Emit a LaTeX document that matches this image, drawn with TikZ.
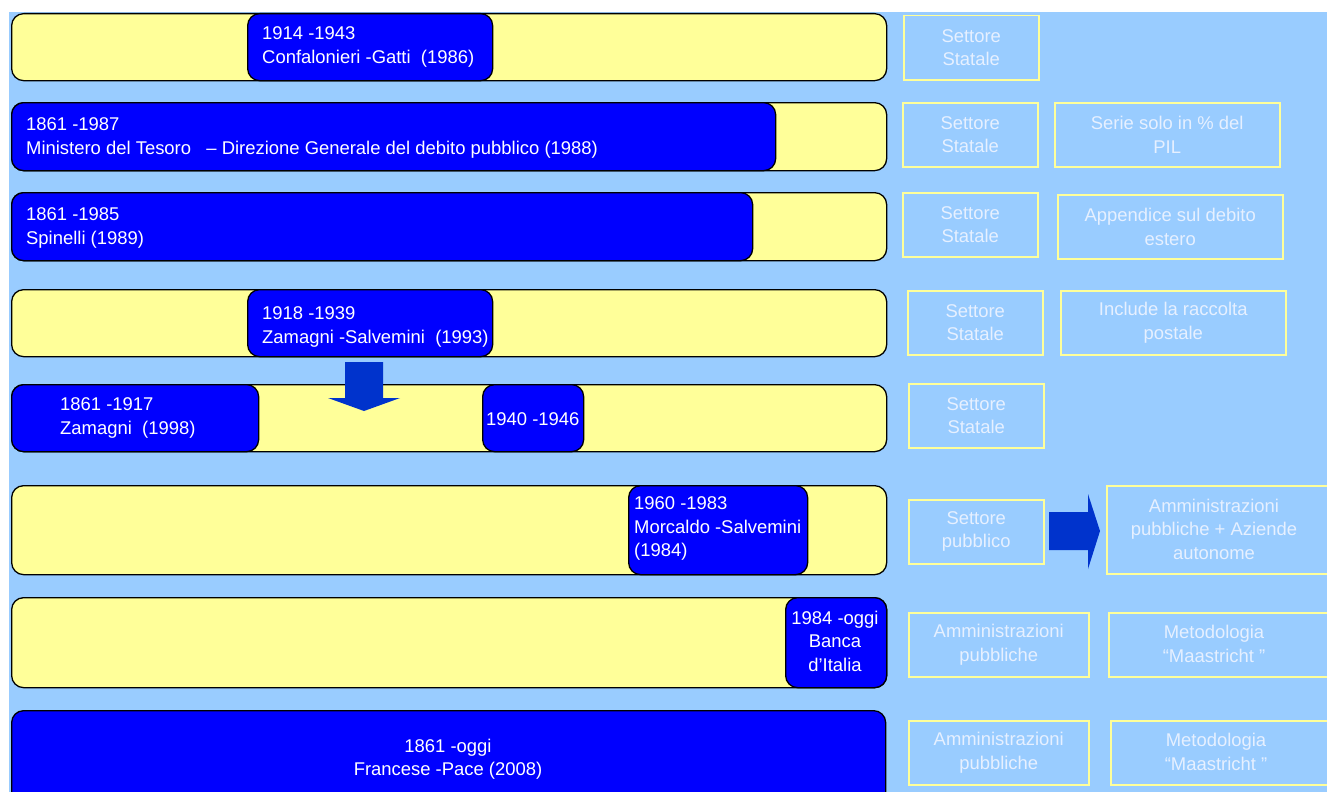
\documentclass[tikz,border=0pt]{standalone}
\usepackage{fontspec}
\setmainfont{Liberation Sans}
\definecolor{bgblue}{HTML}{99CCFF}
\definecolor{baryellow}{HTML}{FFFF99}
\definecolor{boxblue}{HTML}{0000FF}
\definecolor{arrowblue}{HTML}{0033CC}
\definecolor{noteline}{HTML}{FFFF99}
\definecolor{notetext}{HTML}{E6F0FF}
\newcommand{\diagfont}{\fontsize{18.5}{23.5}\selectfont}
\begin{document}
\begin{tikzpicture}[x=1bp,y=-1bp,
  bar/.style={draw=black, line width=1.3bp, fill=baryellow, rounded corners=12bp, anchor=north west, inner sep=0pt},
  period/.style={draw=black, line width=1.3bp, fill=boxblue, rounded corners=12bp, anchor=north west, inner sep=0pt},
  lbl/.style={text=white, font=\diagfont, align=left, inner sep=0pt, anchor=west},
  clbl/.style={text=white, font=\diagfont, align=center, inner sep=0pt},
  note/.style={draw=noteline, line width=1.5bp, text=notetext, font=\diagfont, align=center, inner sep=0pt, anchor=north west},
  notetxt/.style={text=notetext, font=\diagfont, align=center, inner sep=0pt},
  blockarrow/.style={fill=arrowblue, draw=none}]
\useasboundingbox (0,0) rectangle (1327,791);
\clip (0,0) rectangle (1327,791);
\fill[white] (0,0) rectangle (1327,791);
\fill[bgblue] (9,12) rectangle (1340,800);

% Row 1
\node[bar, minimum width=875bp, minimum height=67bp] (bar1) at (11,13) {};
\node[period, minimum width=245bp, minimum height=67bp] (p1) at (247,13) {};
\node[lbl] (t1) at (262,47) {1914 -1943\\Confalonieri -Gatti \ (1986)};

% Row 2
\node[bar, minimum width=875bp, minimum height=68bp] (bar2) at (11,102) {};
\node[period, minimum width=764bp, minimum height=68bp] (p2) at (11,102) {};
\node[lbl] (t2) at (26,138) {1861 -1987\\Ministero del Tesoro \ \ -- Direzione Generale del debito pubblico (1988)};

% Row 3
\node[bar, minimum width=875bp, minimum height=68bp] (bar3) at (11,192) {};
\node[period, minimum width=741bp, minimum height=68bp] (p3) at (11,192) {};
\node[lbl] (t3) at (26,228) {1861 -1985\\Spinelli (1989)};

% Row 4
\node[bar, minimum width=875bp, minimum height=67bp] (bar4) at (11,289) {};
\node[period, minimum width=245bp, minimum height=67bp] (p4) at (247,289) {};
\node[lbl] (t4) at (262,327) {1918 -1939\\Zamagni -Salvemini \ (1993)};

% Row 5
\node[bar, minimum width=875bp, minimum height=67bp] (bar5) at (11,384) {};
\node[period, minimum width=247bp, minimum height=67bp] (p5a) at (11,384) {};
\node[period, minimum width=101bp, minimum height=67bp] (p5b) at (482,384) {};
\node[lbl] (t5a) at (60,418) {1861 -1917\\Zamagni \ (1998)};
\node[lbl] (t5b) at (486,419) {1940 -1946};

% Down arrow (drawn over row 5)
\fill[blockarrow] (345,362) -- (383,362) -- (383,398) -- (400,398) -- (364,411) -- (328,398) -- (345,398) -- cycle;

% Row 6
\node[bar, minimum width=875bp, minimum height=89bp] (bar6) at (11,485) {};
\node[period, minimum width=179bp, minimum height=89bp] (p6) at (628,485) {};
\node[lbl] (t6) at (634,528.5) {1960 -1983\\Morcaldo -Salvemini\\(1984)};

% Row 7
\node[bar, minimum width=875bp, minimum height=90bp] (bar7) at (11,597) {};
\node[period, minimum width=101bp, minimum height=90bp] (p7) at (785,597) {};
\node[clbl] (t7) at (835,641) {1984 -oggi\\Banca\\d’Italia};

% Row 8
\node[period, minimum width=874bp, minimum height=100bp] (p8) at (11,710) {};
\node[clbl] (t8) at (448,759.5) {1861 -oggi\\Francese -Pace (2008)};

% Right notes
\node[note, minimum width=135bp, minimum height=64bp] (n1) at (903,15) {Settore\\Statale};
\node[note, minimum width=135bp, minimum height=64bp] (n2a) at (902,102) {Settore\\Statale};
\node[note, minimum width=225bp, minimum height=64bp] (n2b) at (1054,102) {Serie solo in \% del\\PIL};
\node[note, minimum width=135bp, minimum height=64bp] (n3a) at (902,192) {Settore\\Statale};
\node[note, minimum width=225bp, minimum height=64bp] (n3b) at (1057,194) {Appendice sul debito\\estero};
\node[note, minimum width=135bp, minimum height=64bp] (n4a) at (907,290) {Settore\\Statale};
\node[note, minimum width=225bp, minimum height=64bp] (n4b) at (1060,290) {Include la raccolta\\postale};
\node[note, minimum width=135bp, minimum height=64bp] (n5) at (908,383) {Settore\\Statale};
\node[note, minimum width=135bp, minimum height=64bp] (n6a) at (908,499) {Settore\\pubblico};
\node[note, minimum width=240bp, minimum height=88bp] (n6b) at (1106,485) {};
\node[notetxt] (n6bt) at (1214,529) {Amministrazioni\\pubbliche + Aziende\\autonome};
\fill[blockarrow] (1049,512) -- (1088,512) -- (1088,494) -- (1100,531) -- (1088,569) -- (1088,550) -- (1049,550) -- cycle;
\node[note, minimum width=180bp, minimum height=64bp] (n7a) at (908,612) {Amministrazioni\\pubbliche};
\node[note, minimum width=240bp, minimum height=64bp] (n7b) at (1108,612) {};
\node[notetxt] (n7bt) at (1214,644) {Metodologia\\“Maastricht ”};
\node[note, minimum width=180bp, minimum height=64bp] (n8a) at (908,720) {Amministrazioni\\pubbliche};
\node[note, minimum width=240bp, minimum height=64bp] (n8b) at (1110,720) {};
\node[notetxt] (n8bt) at (1216,752) {Metodologia\\“Maastricht ”};
\end{tikzpicture}
\end{document}
